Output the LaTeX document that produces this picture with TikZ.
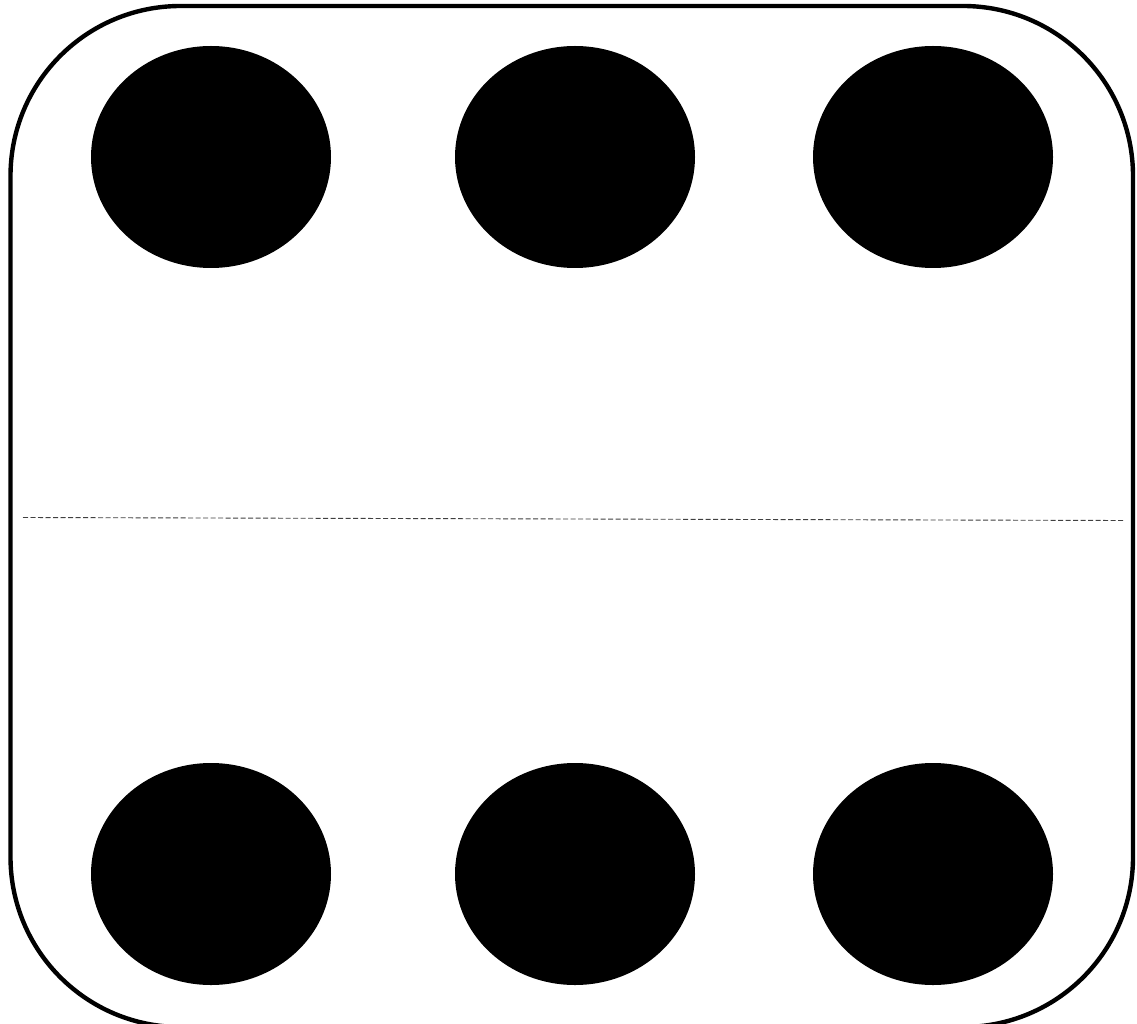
\documentclass[tikz,border=0pt]{standalone}
\usetikzlibrary{shapes.geometric}

\begin{document}
\begin{tikzpicture}[
    x=1pt, y=-1pt,
    % Node styles
    tilebox/.style={
        rectangle,
        rounded corners=170pt,
        draw=black,
        line width=4.4pt,
        fill=white,
        minimum width=1122.5pt,
        minimum height=1021pt,
        inner sep=0pt
    },
    pipdot/.style={
        ellipse,
        draw=none,
        fill=black,
        minimum width=240pt,
        minimum height=222pt,
        inner sep=0pt
    },
    divider/.style={
        line width=0.9pt,
        dash pattern=on 5pt off 2.5pt,
        color=black!75
    }
]

\useasboundingbox (0, 0) rectangle (1137, 1024);

% ===== Tile outline =====

\node[tilebox] (tile) at (571.75, 516.5) {};

% ===== Upper half =====

\node[pipdot] (top1) at (211, 157) {};
\node[pipdot] (top2) at (575, 157) {};
\node[pipdot] (top3) at (933, 157) {};

% ===== Lower half =====

\node[pipdot] (bot1) at (211, 874) {};
\node[pipdot] (bot2) at (575, 874) {};
\node[pipdot] (bot3) at (933, 874) {};

% ===== Dividing line =====

\coordinate (divL) at (23, 517.5);
\coordinate (divR) at (1125, 520.5);
\draw[divider] (divL) -- (divR);

\end{tikzpicture}
\end{document}
